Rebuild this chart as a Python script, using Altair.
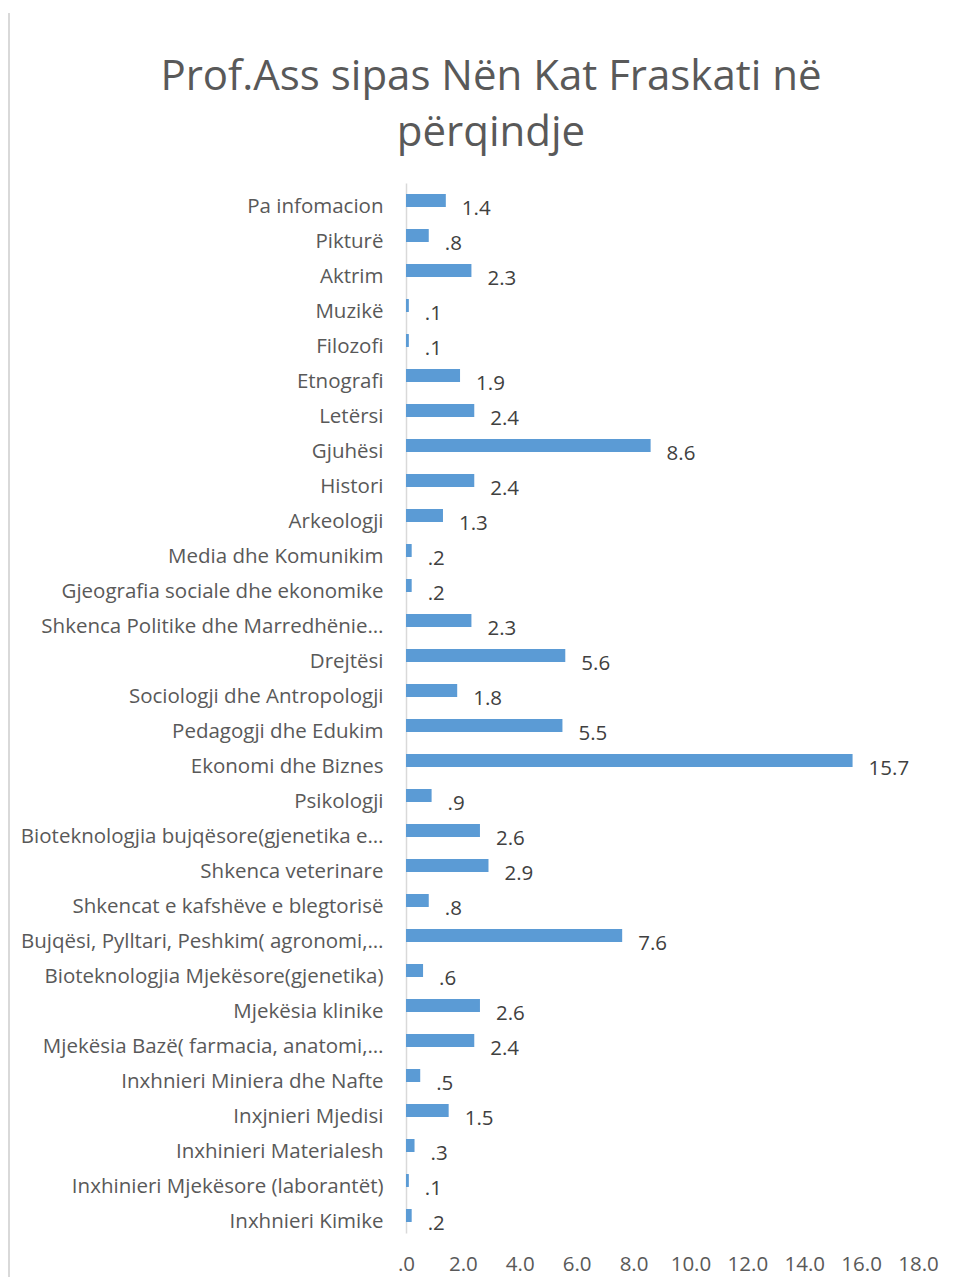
import altair as alt
import pandas as pd

categories = [
    "Pa infomacion", "Pikturë", "Aktrim", "Muzikë", "Filozofi", "Etnografi",
    "Letërsi", "Gjuhësi", "Histori", "Arkeologji", "Media dhe Komunikim",
    "Gjeografia sociale dhe ekonomike", "Shkenca Politike dhe Marredhënie…",
    "Drejtësi", "Sociologji dhe Antropologji", "Pedagogji dhe Edukim",
    "Ekonomi dhe Biznes", "Psikologji", "Bioteknologjia bujqësore(gjenetika e…",
    "Shkenca veterinare", "Shkencat e kafshëve e blegtorisë",
    "Bujqësi, Pylltari, Peshkim( agronomi,…", "Bioteknologjia Mjekësore(gjenetika)",
    "Mjekësia klinike", "Mjekësia Bazë( farmacia, anatomi,…",
    "Inxhnieri Miniera dhe Nafte", "Inxjnieri Mjedisi", "Inxhinieri Materialesh",
    "Inxhinieri Mjekësore (laborantët)", "Inxhnieri Kimike",
]
values = [1.4, 0.8, 2.3, 0.1, 0.1, 1.9, 2.4, 8.6, 2.4, 1.3, 0.2, 0.2, 2.3, 5.6, 1.8,
          5.5, 15.7, 0.9, 2.6, 2.9, 0.8, 7.6, 0.6, 2.6, 2.4, 0.5, 1.5, 0.3, 0.1, 0.2]
x_ticks = [0, 2, 4, 6, 8, 10, 12, 14, 16, 18]
title_lines = ["Prof.Ass sipas Nën Kat Fraskati në", "përqindje"]

df = pd.DataFrame({"cat": categories, "val": values})
df_title = pd.DataFrame({"t": ["\n".join(title_lines)]})

FONT = "Open Sans"
FS = 20.5
W, H = 512, 1050

y_enc = alt.Y("cat:N", sort=categories, title=None,
              scale=alt.Scale(paddingInner=0.63, paddingOuter=0.315),
              axis=alt.Axis(domain=True, domainColor="#D9D9D9", domainWidth=1.5,
                            ticks=False, labelPadding=23, labelFont=FONT,
                            labelFontSize=FS, labelColor="#595959", labelLimit=420,
                            labelOffset=6))
x_enc = alt.X("val:Q", title=None,
              scale=alt.Scale(domain=[0, 18], nice=False),
              axis=alt.Axis(values=x_ticks, domain=False, ticks=False, grid=False,
                            labelPadding=21, labelFont=FONT, labelFontSize=FS,
                            labelColor="#595959", labelFlush=False, labelOverlap=False,
                            labelExpr="datum.value == 0 ? '.0' : format(datum.value, '.1f')"))

bars = alt.Chart(df).mark_bar(color="#5B9BD5").encode(x=x_enc, y=y_enc)

labels = alt.Chart(df).transform_calculate(
    lbl="datum.val < 1 ? substring(format(datum.val, '.1f'), 1) : format(datum.val, '.1f')"
).mark_text(align="left", baseline="middle", dx=16, dy=8, font=FONT, fontSize=FS,
            color="#404040").encode(x="val:Q", y=alt.Y("cat:N", sort=categories), text="lbl:N")

border = alt.Chart(df).mark_rule(color="#D9D9D9", strokeWidth=2).encode(
    x=alt.value(-397), y=alt.value(-169.5), y2=alt.value(1100.5))

title = alt.Chart(df_title).mark_text(
    align="center", baseline="alphabetic", lineBreak="\n", lineHeight=56,
    font=FONT, fontSize=42, color="#595959"
).encode(x=alt.value(85), y=alt.value(-93), text="t:N")

chart = alt.layer(border, title, bars, labels).properties(
    width=W, height=H,
    autosize=alt.AutoSizeParams(type="none"),
    padding={"left": 398, "top": 175, "right": 30, "bottom": 44},
).configure_view(stroke=None)

chart.save("out.html", embed_options={"renderer": "svg", "actions": False})
